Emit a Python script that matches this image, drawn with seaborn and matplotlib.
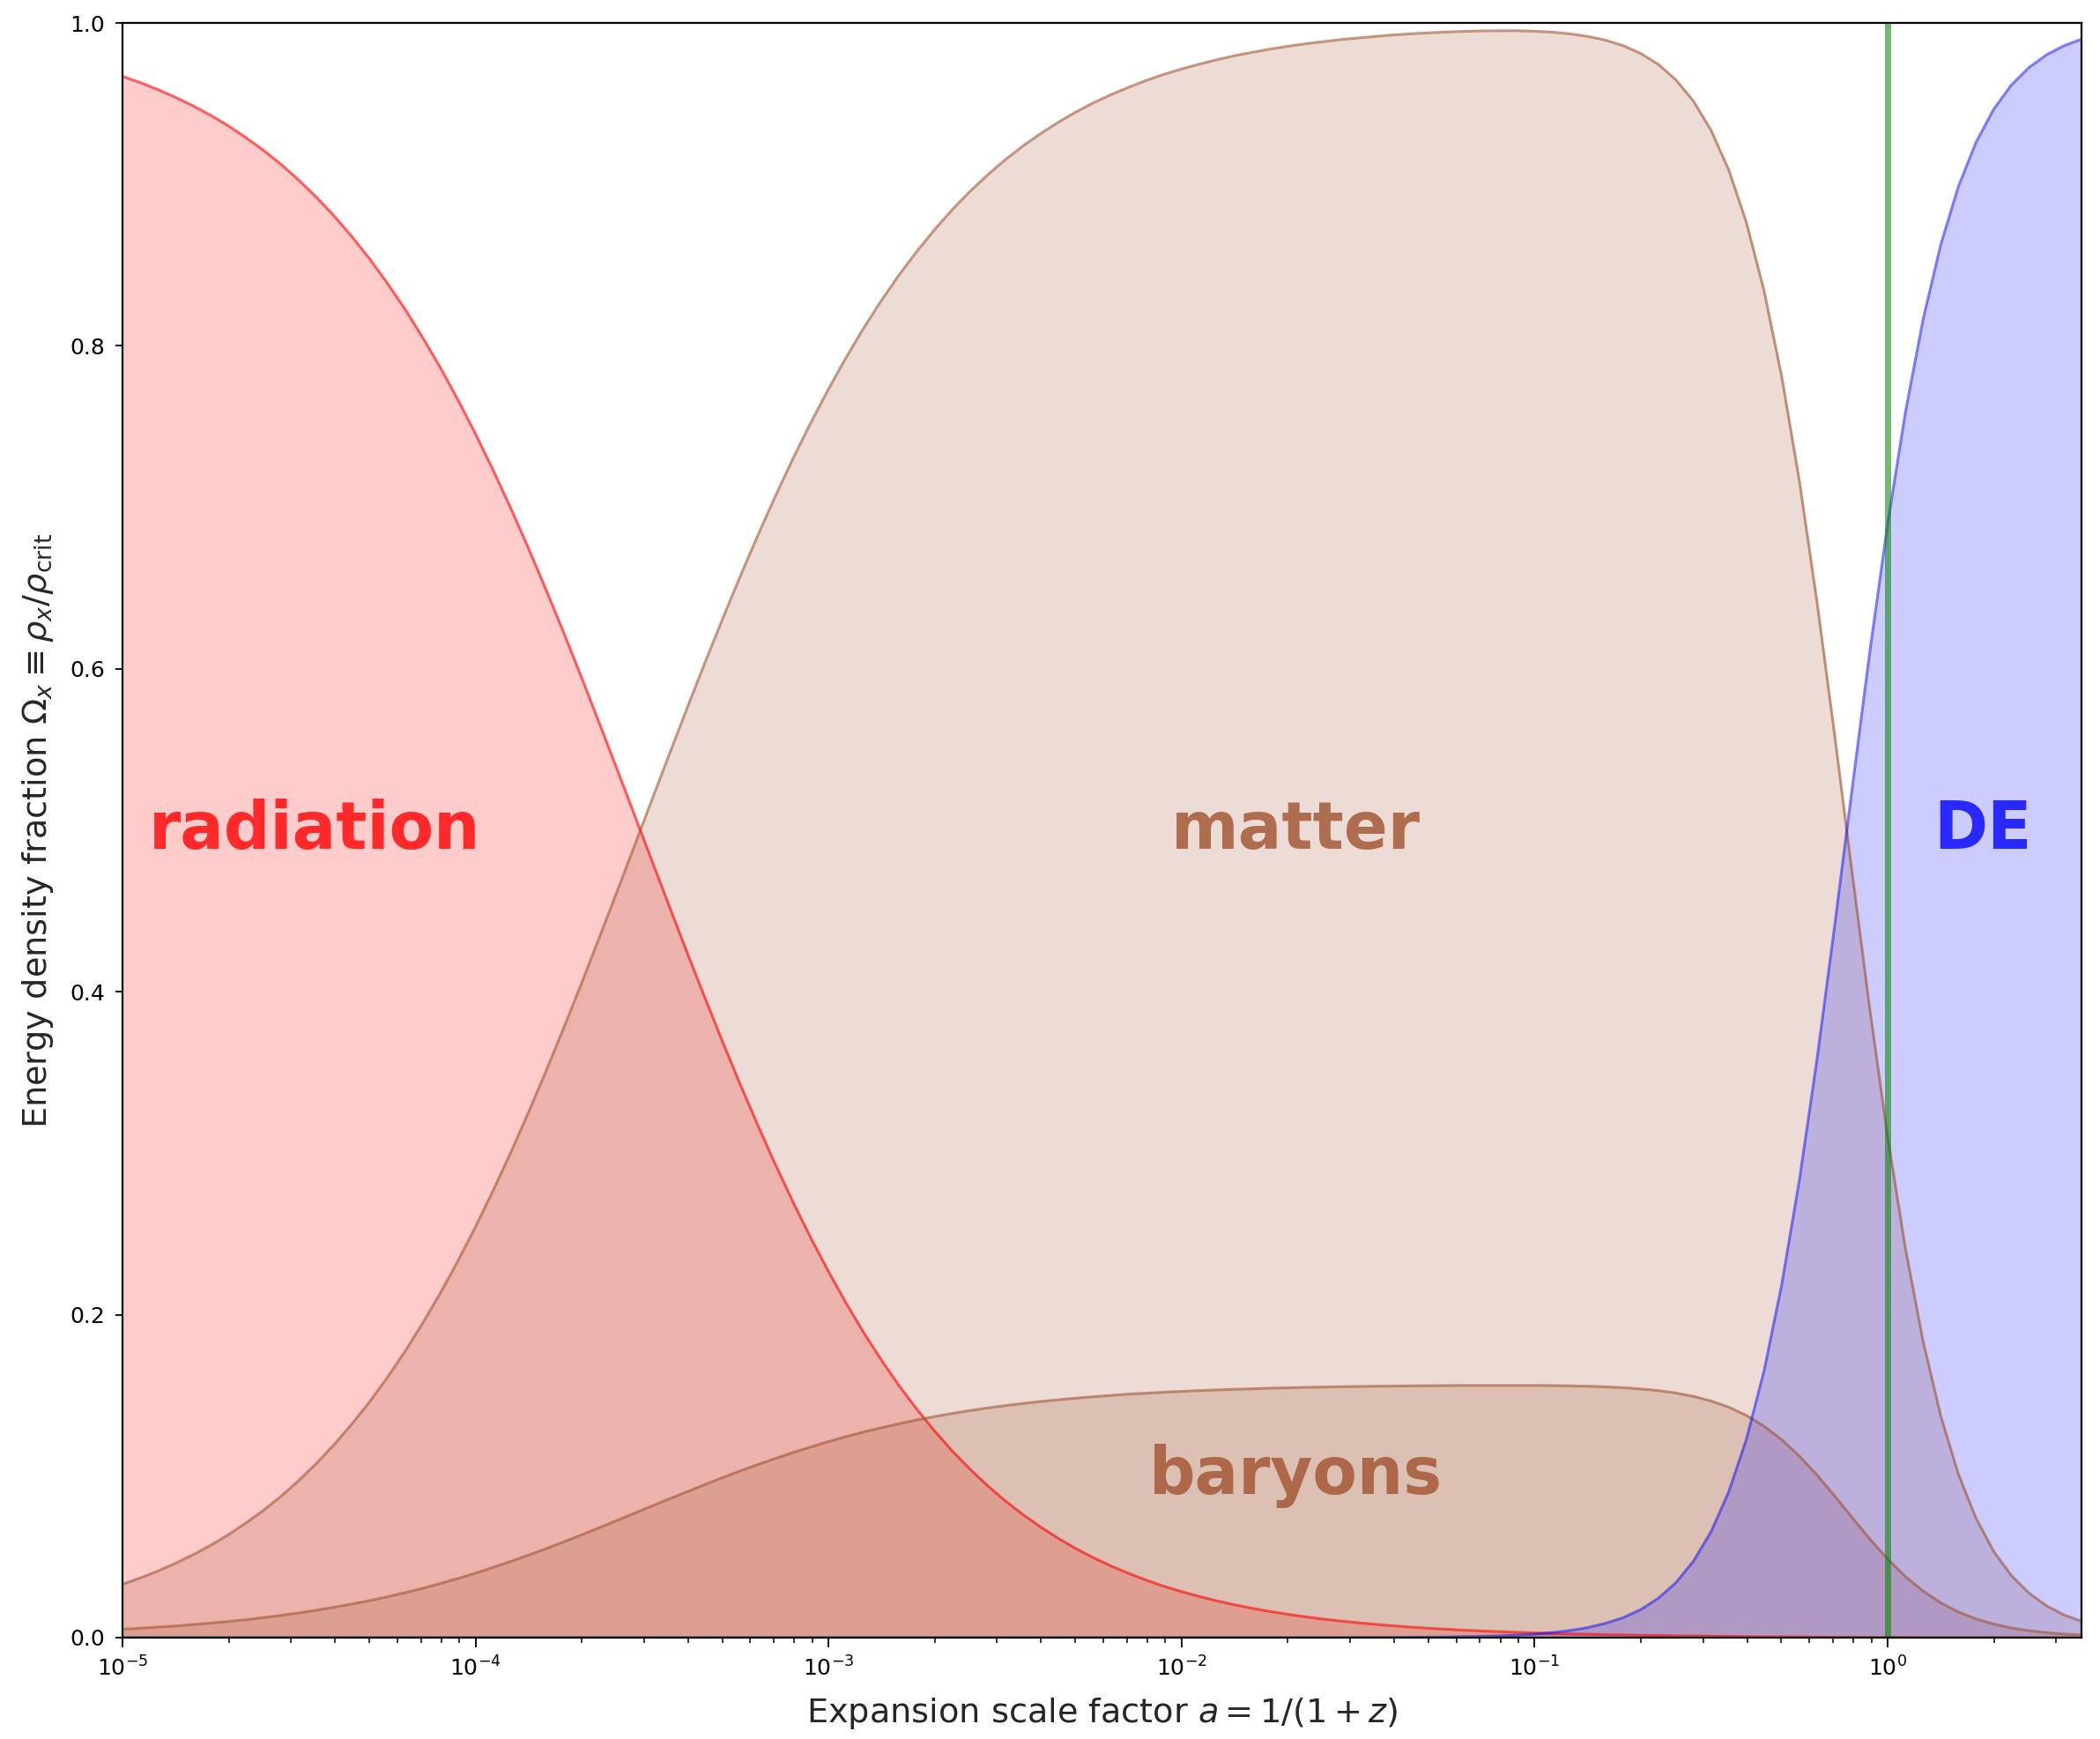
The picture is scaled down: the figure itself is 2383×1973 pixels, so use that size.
import numpy as np
import pandas as pd
import matplotlib
matplotlib.use("Agg")
import matplotlib.pyplot as plt
import seaborn as sns

# log10 of the expansion scale factor a
log_a = [-5.00, -4.95, -4.90, -4.85, -4.80, -4.75, -4.70, -4.65, -4.60, -4.55,
         -4.50, -4.45, -4.40, -4.35, -4.30, -4.25, -4.20, -4.15, -4.10, -4.05,
         -4.00, -3.95, -3.90, -3.85, -3.80, -3.75, -3.70, -3.65, -3.60, -3.55,
         -3.50, -3.45, -3.40, -3.35, -3.30, -3.25, -3.20, -3.15, -3.10, -3.05,
         -3.00, -2.95, -2.90, -2.85, -2.80, -2.75, -2.70, -2.65, -2.60, -2.55,
         -2.50, -2.45, -2.40, -2.35, -2.30, -2.25, -2.20, -2.15, -2.10, -2.05,
         -2.00, -1.95, -1.90, -1.85, -1.80, -1.75, -1.70, -1.65, -1.60, -1.55,
         -1.50, -1.45, -1.40, -1.35, -1.30, -1.25, -1.20, -1.15, -1.10, -1.05,
         -1.00, -0.95, -0.90, -0.85, -0.80, -0.75, -0.70, -0.65, -0.60, -0.55,
         -0.50, -0.45, -0.40, -0.35, -0.30, -0.25, -0.20, -0.15, -0.10, -0.05,
         0.00, 0.05, 0.10, 0.15, 0.20, 0.25, 0.30, 0.35, 0.40, 0.45,
         0.50, 0.55, 0.60]

# energy density fractions Omega_x = rho_x / rho_crit
radiation = [0.9670, 0.9631, 0.9588, 0.9540, 0.9487, 0.9428, 0.9363, 0.9290, 0.9211, 0.9123,
             0.9026, 0.8920, 0.8804, 0.8677, 0.8540, 0.8390, 0.8229, 0.8054, 0.7868, 0.7668,
             0.7456, 0.7231, 0.6995, 0.6748, 0.6490, 0.6224, 0.5950, 0.5669, 0.5385, 0.5098,
             0.4810, 0.4524, 0.4240, 0.3962, 0.3690, 0.3426, 0.3172, 0.2928, 0.2695, 0.2475,
             0.2267, 0.2071, 0.1888, 0.1718, 0.1560, 0.1415, 0.1281, 0.1157, 0.1045, 0.0942,
             0.0848, 0.0763, 0.0686, 0.0616, 0.0552, 0.0495, 0.0444, 0.0398, 0.0356, 0.0318,
             0.0285, 0.0255, 0.0228, 0.0203, 0.0182, 0.0162, 0.0145, 0.0129, 0.0115, 0.0103,
             0.0092, 0.0082, 0.0073, 0.0065, 0.0058, 0.0052, 0.0046, 0.0041, 0.0037, 0.0033,
             0.0029, 0.0026, 0.0023, 0.0021, 0.0018, 0.0016, 0.0014, 0.0013, 0.0011, 0.0010,
             0.0009, 0.0008, 0.0006, 0.0005, 0.0005, 0.0004, 0.0003, 0.0002, 0.0002, 0.0001,
             0.0001, 0.0001, 0.0000, 0.0000, 0.0000, 0.0000, 0.0000, 0.0000, 0.0000, 0.0000,
             0.0000, 0.0000, 0.0000]

matter = [0.0330, 0.0369, 0.0412, 0.0460, 0.0513, 0.0572, 0.0637, 0.0710, 0.0789, 0.0877,
          0.0974, 0.1080, 0.1196, 0.1323, 0.1460, 0.1610, 0.1771, 0.1946, 0.2132, 0.2332,
          0.2544, 0.2769, 0.3005, 0.3252, 0.3510, 0.3776, 0.4050, 0.4331, 0.4615, 0.4902,
          0.5190, 0.5476, 0.5760, 0.6038, 0.6310, 0.6574, 0.6828, 0.7072, 0.7305, 0.7525,
          0.7733, 0.7929, 0.8112, 0.8282, 0.8440, 0.8585, 0.8719, 0.8843, 0.8955, 0.9058,
          0.9152, 0.9237, 0.9314, 0.9384, 0.9448, 0.9505, 0.9556, 0.9602, 0.9644, 0.9682,
          0.9715, 0.9745, 0.9772, 0.9797, 0.9818, 0.9838, 0.9855, 0.9871, 0.9884, 0.9897,
          0.9907, 0.9917, 0.9926, 0.9933, 0.9939, 0.9944, 0.9948, 0.9951, 0.9952, 0.9952,
          0.9949, 0.9943, 0.9933, 0.9917, 0.9894, 0.9860, 0.9812, 0.9744, 0.9648, 0.9516,
          0.9334, 0.9089, 0.8763, 0.8340, 0.7808, 0.7162, 0.6412, 0.5586, 0.4726, 0.3882,
          0.3100, 0.2413, 0.1838, 0.1375, 0.1014, 0.0740, 0.0535, 0.0385, 0.0276, 0.0197,
          0.0140, 0.0100, 0.0071]

baryons = [0.0052, 0.0058, 0.0065, 0.0072, 0.0081, 0.0090, 0.0100, 0.0111, 0.0124, 0.0138,
           0.0153, 0.0170, 0.0188, 0.0208, 0.0229, 0.0253, 0.0278, 0.0305, 0.0335, 0.0366,
           0.0399, 0.0435, 0.0472, 0.0511, 0.0551, 0.0593, 0.0636, 0.0680, 0.0725, 0.0770,
           0.0815, 0.0860, 0.0904, 0.0948, 0.0991, 0.1032, 0.1072, 0.1110, 0.1147, 0.1181,
           0.1214, 0.1245, 0.1274, 0.1300, 0.1325, 0.1348, 0.1369, 0.1388, 0.1406, 0.1422,
           0.1437, 0.1450, 0.1462, 0.1473, 0.1483, 0.1492, 0.1500, 0.1508, 0.1514, 0.1520,
           0.1525, 0.1530, 0.1534, 0.1538, 0.1541, 0.1545, 0.1547, 0.1550, 0.1552, 0.1554,
           0.1555, 0.1557, 0.1558, 0.1559, 0.1560, 0.1561, 0.1562, 0.1562, 0.1562, 0.1562,
           0.1562, 0.1561, 0.1559, 0.1557, 0.1553, 0.1548, 0.1540, 0.1530, 0.1515, 0.1494,
           0.1465, 0.1427, 0.1376, 0.1309, 0.1226, 0.1124, 0.1007, 0.0877, 0.0742, 0.0609,
           0.0487, 0.0379, 0.0289, 0.0216, 0.0159, 0.0116, 0.0084, 0.0060, 0.0043, 0.0031,
           0.0022, 0.0016, 0.0011]

dark_energy = [0.0, 0.0, 0.0, 0.0, 0.0, 0.0, 0.0, 0.0, 0.0, 0.0,
               0.0, 0.0, 0.0, 0.0, 0.0, 0.0, 0.0, 0.0, 0.0, 0.0,
               0.0, 0.0, 0.0, 0.0, 0.0, 0.0, 0.0, 0.0, 0.0, 0.0,
               0.0, 0.0, 0.0, 0.0, 0.0, 0.0, 0.0, 0.0, 0.0, 0.0,
               0.0, 0.0, 0.0, 0.0, 0.0, 0.0, 0.0, 0.0, 0.0, 0.0,
               0.0, 0.0, 0.0, 0.0, 0.0, 0.0, 0.0, 0.0, 0.0, 0.0,
               0.0, 0.0, 0.0, 0.0, 0.0, 0.0, 0.0, 0.0, 0.0, 0.0,
               0.0001, 0.0001, 0.0001, 0.0002, 0.0003, 0.0004, 0.0006, 0.0008, 0.0011, 0.0016,
               0.0022, 0.0031, 0.0044, 0.0062, 0.0088, 0.0123, 0.0173, 0.0243, 0.0340, 0.0474,
               0.0657, 0.0904, 0.1230, 0.1654, 0.2188, 0.2835, 0.3585, 0.4412, 0.5272, 0.6117,
               0.6900, 0.7587, 0.8162, 0.8625, 0.8986, 0.9260, 0.9465, 0.9615, 0.9724, 0.9803,
               0.9860, 0.9900, 0.9929]

today = 1.0
x_limits = (1e-5, 3.54)

sns.set_theme(style="ticks")
plt.rcParams.update({
    "font.family": ["DejaVu Sans"],
    "axes.edgecolor": "black",
    "axes.linewidth": 1.6,
    "xtick.major.size": 7.7, "xtick.minor.size": 4,
    "ytick.major.size": 6,
    "xtick.major.width": 1.3, "xtick.minor.width": 1.1,
    "ytick.major.width": 1.3,
    "xtick.major.pad": 8, "ytick.major.pad": 8,
    "xtick.color": "black", "ytick.color": "black",
    "xtick.labelsize": 18, "ytick.labelsize": 18,
    "mathtext.fontset": "dejavusans",
})

df = pd.DataFrame({
    "a": np.power(10.0, log_a),
    "radiation": radiation,
    "matter": matter,
    "baryons": baryons,
    "DE": dark_energy,
})

fig = plt.figure(figsize=(23.83, 19.73), dpi=100)
ax = fig.add_axes([0.0583, 0.0583, 0.9912 - 0.0583, 0.9868 - 0.0583])

species = [
    ("radiation", "red", 0.6),
    ("matter", "sienna", 0.6),
    ("baryons", "sienna", 0.6),
    ("DE", "blue", 0.5),
]
for name, color, line_alpha in species:
    ax.fill_between(df["a"], 0, df[name], color=color, alpha=0.2, linewidth=0)
    sns.lineplot(data=df, x="a", y=name, ax=ax, color=color, alpha=line_alpha,
                 linewidth=2.2, legend=False)

ax.axvline(today, color="green", alpha=0.55, linewidth=5)

ax.set_xscale("log")
ax.set_xlim(*x_limits)
ax.set_ylim(0, 1)
ax.set_yticks([0.0, 0.2, 0.4, 0.6, 0.8, 1.0])

label_style = dict(fontsize=53, fontweight="bold", alpha=0.8, ha="center", va="center")
ax.text(3.5e-5, 0.5, "radiation", color="red", **label_style)
ax.text(0.021, 0.5, "matter", color="sienna", **label_style)
ax.text(0.021, 0.1, "baryons", color="sienna", **label_style)
ax.text(1.86, 0.5, "DE", color="blue", **label_style)

ax.set_xlabel(r"Expansion scale factor $a = 1/(1+z)$", fontsize=27.5, labelpad=12)
ax.set_ylabel(r"Energy density fraction $\Omega_x \equiv \rho_x/\rho_{\rm crit}$",
              fontsize=27.5, labelpad=12)

fig.savefig("out.png", dpi=100)
